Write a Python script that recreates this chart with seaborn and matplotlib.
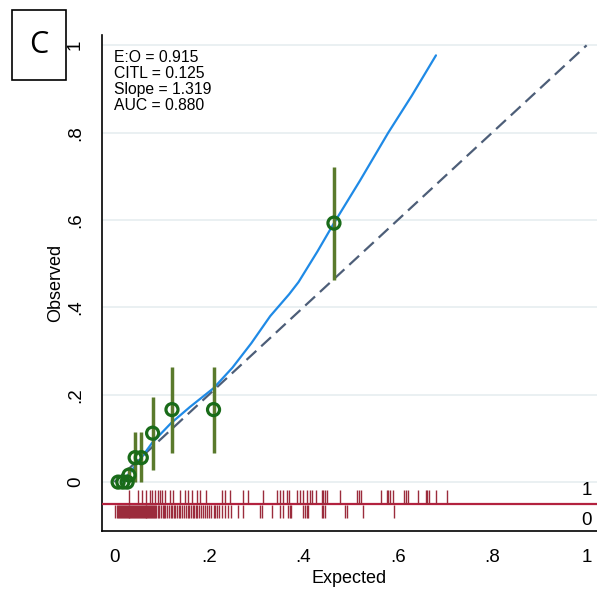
import numpy as np
import pandas as pd
import matplotlib
matplotlib.use("Agg")
import matplotlib.pyplot as plt
import seaborn as sns
from matplotlib.patches import Rectangle

# grouped calibration points (expected, observed, CI)
grp_exp = [0.008, 0.018, 0.027, 0.031, 0.044, 0.057, 0.081, 0.122, 0.210, 0.465]
grp_obs = [0.0, 0.0, 0.0, 0.016, 0.056, 0.056, 0.112, 0.166, 0.166, 0.593]
grp_lo = [0.0, 0.0, 0.0, 0.0, 0.0, 0.0, 0.027, 0.067, 0.067, 0.462]
grp_hi = [0.0, 0.0, 0.0, 0.035, 0.115, 0.115, 0.195, 0.263, 0.263, 0.722]

# smoothed calibration curve
smooth_x = [0.015, 0.03, 0.05, 0.08, 0.12, 0.16, 0.21, 0.25, 0.29, 0.33, 0.37, 0.39,
            0.43, 0.465, 0.52, 0.58, 0.63, 0.681]
smooth_y = [0.0, 0.018, 0.045, 0.09, 0.135, 0.172, 0.215, 0.262, 0.318, 0.38, 0.43,
            0.458, 0.528, 0.593, 0.69, 0.8, 0.885, 0.977]

# rug of predicted risks by outcome
rug_1 = [0.031, 0.05, 0.059, 0.068, 0.075, 0.08, 0.086, 0.093, 0.096, 0.101, 0.107,
         0.118, 0.125, 0.139, 0.149, 0.155, 0.165, 0.174, 0.181, 0.195, 0.228, 0.234,
         0.245, 0.273, 0.283, 0.315, 0.344, 0.351, 0.358, 0.365, 0.37, 0.386, 0.393,
         0.4, 0.407, 0.414, 0.418, 0.428, 0.439, 0.442, 0.446, 0.45, 0.478, 0.514,
         0.518, 0.522, 0.565, 0.577, 0.58, 0.583, 0.589, 0.613, 0.617, 0.622, 0.642,
         0.66, 0.663, 0.666, 0.681, 0.704]
rug_0 = [0.002, 0.005, 0.008, 0.010, 0.012, 0.014, 0.016, 0.018, 0.020, 0.022, 0.024,
         0.026, 0.028, 0.030, 0.032, 0.034, 0.036, 0.038, 0.040, 0.042, 0.044, 0.046,
         0.048, 0.050, 0.052, 0.054, 0.056, 0.058, 0.060, 0.062, 0.064, 0.066, 0.068,
         0.070, 0.072, 0.074, 0.076, 0.078, 0.080, 0.082, 0.084, 0.086, 0.088, 0.092,
         0.095, 0.099, 0.102, 0.105, 0.108, 0.112, 0.116, 0.119, 0.122, 0.126, 0.129,
         0.133, 0.137, 0.140, 0.144, 0.148, 0.152, 0.155, 0.158, 0.162, 0.166, 0.169,
         0.172, 0.176, 0.180, 0.184, 0.188, 0.192, 0.196, 0.200, 0.205, 0.210, 0.214,
         0.218, 0.222, 0.228, 0.234, 0.241, 0.248, 0.262, 0.273, 0.308, 0.312, 0.333,
         0.351, 0.358, 0.368, 0.372, 0.375, 0.400, 0.404, 0.407, 0.411, 0.439, 0.442,
         0.446, 0.488, 0.492, 0.527, 0.593]

stats_text = "E:O = 0.915\nCITL = 0.125\nSlope = 1.319\nAUC = 0.880"
ticks = [0, 0.2, 0.4, 0.6, 0.8, 1]
tick_labels = ["0", ".2", ".4", ".6", ".8", "1"]

sns.set_style("white")
plt.rcParams['font.family'] = ['Liberation Sans', 'DejaVu Sans']
plt.rcParams['text.color'] = 'black'
plt.rcParams['axes.labelcolor'] = 'black'
plt.rcParams['xtick.color'] = 'black'
plt.rcParams['ytick.color'] = 'black'

fig = plt.figure(figsize=(5.97, 6.08), dpi=100)
ax = fig.add_axes([0.171, 0.1266, 0.829, 0.8154])

for t in ticks:
    ax.axhline(t, color="#e6eef0", lw=1.2, zorder=0)

# reference line
ref = pd.DataFrame({"x": [0, 1], "y": [0, 1]})
sns.lineplot(data=ref, x="x", y="y", ax=ax, color="#4d5e78", lw=1.6,
             linestyle=(0, (6, 3)), zorder=2)

# smooth curve
sm = pd.DataFrame({"x": smooth_x, "y": smooth_y})
sns.lineplot(data=sm, x="x", y="y", ax=ax, color="#1f8ae6", lw=1.6, sort=False, zorder=3)

# error bars
ax.vlines(grp_exp, grp_lo, grp_hi, color="#5a7a2c", lw=2.5, zorder=4)

# grouped points
gp = pd.DataFrame({"x": grp_exp, "y": grp_obs})
sns.scatterplot(data=gp, x="x", y="y", ax=ax, s=75, facecolor="none",
                edgecolor="#196b19", linewidth=2.3, zorder=5)

# rug
ax.axhline(-0.049, color="#b3223f", lw=1.6, zorder=3)
ax.vlines(rug_1, -0.018, -0.049, color="#9b2c3c", lw=1.0, zorder=3)
ax.vlines(rug_0, -0.053, -0.083, color="#9b2c3c", lw=1.0, zorder=3)
ax.text(1.0, -0.02, "1", ha="center", va="center", fontsize=13.5)
ax.text(1.0, -0.087, "0", ha="center", va="center", fontsize=13.5)

ax.text(0.0, 0.99, stats_text, ha="left", va="top", fontsize=11.3, linespacing=1.1)

ax.set_xlim(-0.026, 1.022)
ax.set_ylim(-0.112, 1.023)
ax.set_xticks(ticks)
ax.set_xticklabels(tick_labels, fontsize=13.5)
ax.set_yticks(ticks)
ax.set_yticklabels(tick_labels, fontsize=13.5, rotation=90, va="center")
ax.tick_params(axis="both", direction="out", length=8, width=1, color="black", pad=5)
ax.set_xlabel("Expected", fontsize=13, labelpad=3)
ax.set_ylabel("Observed", fontsize=13, labelpad=2)
for s in ["top", "right"]:
    ax.spines[s].set_visible(False)
for s in ["left", "bottom"]:
    ax.spines[s].set_color("black")
    ax.spines[s].set_linewidth(1.2)

# panel label box
fig.patches.append(Rectangle((12 / 597, 1 - 80 / 608), 54 / 597, 70 / 608,
                             transform=fig.transFigure, fill=False,
                             edgecolor="black", lw=1.2))
fig.text(39 / 597, 1 - 45 / 608, "C", ha="center", va="center", fontsize=22,
         family=["Open Sans", "DejaVu Sans"])

fig.savefig("out.png", dpi=100)
